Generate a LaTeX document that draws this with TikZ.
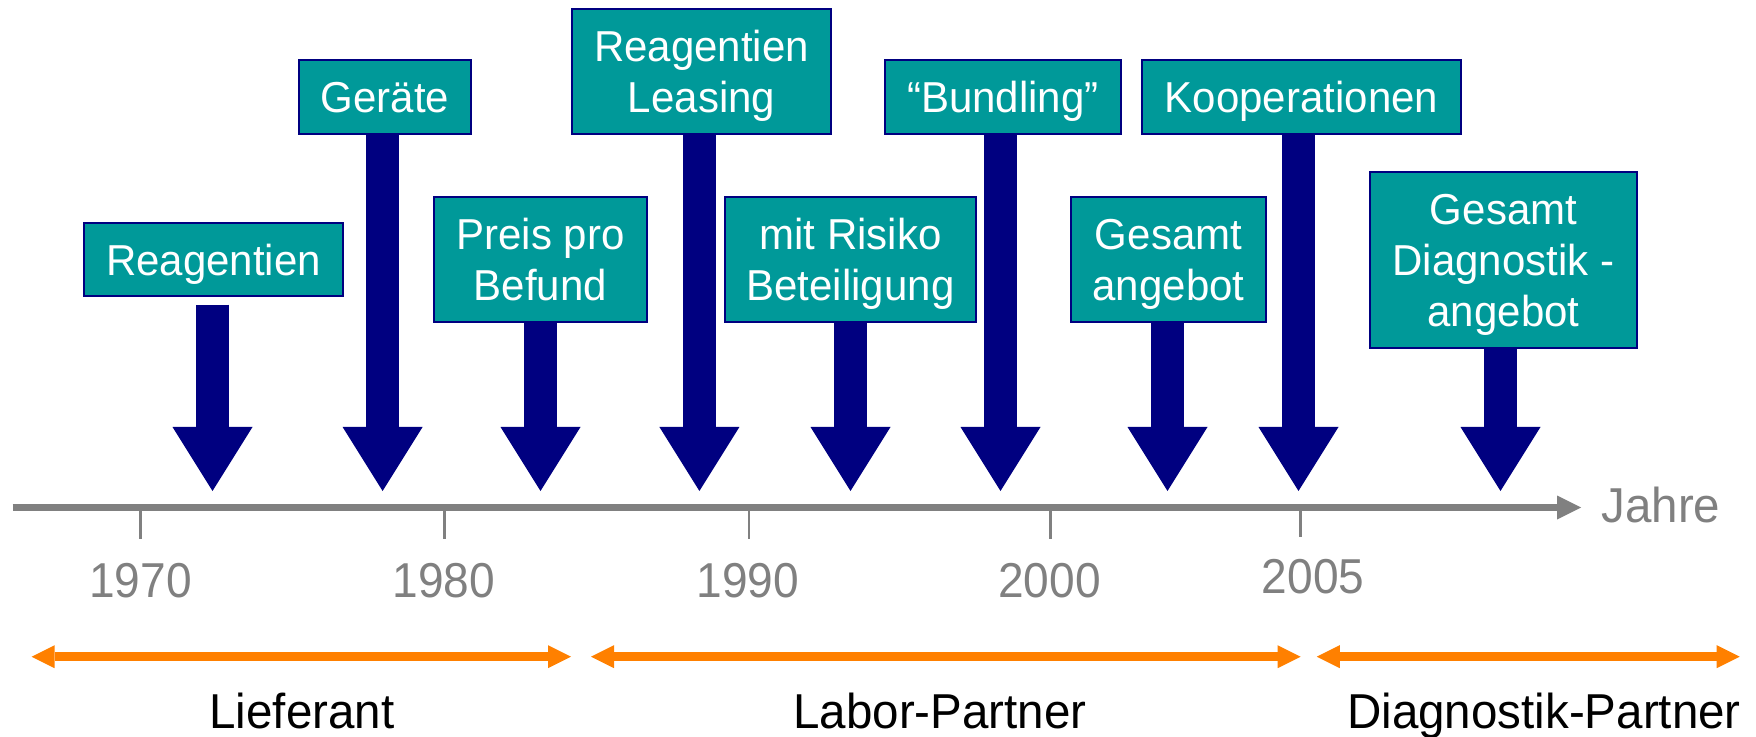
\documentclass[tikz,border=0pt]{standalone}
\usepackage{fontspec}
\setmainfont{Liberation Sans}
\newfontfamily\boxfont[FakeStretch=0.97]{Liberation Sans}
\newfontfamily\yearfont[FakeStretch=0.94]{Liberation Sans}
\newfontfamily\labelfont[FakeStretch=0.97]{Liberation Sans}
\usetikzlibrary{arrows.meta}
\definecolor{boxteal}{RGB}{0,153,153}
\definecolor{navyblue}{RGB}{0,0,128}
\definecolor{axisgray}{RGB}{128,128,128}
\definecolor{phaseorange}{RGB}{255,128,0}
\newcommand{\lnstrut}{\rule[-4.5pt]{0pt}{25pt}}
\begin{document}
\begin{tikzpicture}[x=0.5pt,y=-0.5pt,
  box/.style={draw=navyblue, fill=boxteal, line width=0.75pt, text=white, align=center,
    inner sep=0pt, font=\boxfont\fontsize{21.65}{25.5}\selectfont},
  blockarrow/.style={draw=navyblue, line width=16.5pt,
    -{Triangle[width=40pt,length=32pt,line width=0pt]}},
  axisline/.style={draw=axisgray, line width=3.75pt,
    -{Triangle[width=12pt,length=12pt,line width=0pt]}},
  tickline/.style={draw=axisgray, line width=1.25pt},
  yearlbl/.style={anchor=base, inner sep=0pt, text=axisgray, font=\yearfont\fontsize{24.5}{28}\selectfont},
  phasearrow/.style={draw=phaseorange, line width=4.5pt,
    {Triangle[width=11.5pt,length=11.5pt,line width=0pt]}-{Triangle[width=11.5pt,length=11.5pt,line width=0pt]}},
  phaselbl/.style={anchor=base, inner sep=0pt, text=black, font=\labelfont\fontsize{24.5}{28}\selectfont}]
\useasboundingbox (0,0) rectangle (1756,737);

% boxes
\node[box, minimum width=129.5pt, minimum height=36.5pt] (b1) at (213.5,259.5) {\lnstrut Reagentien};
\node[box, minimum width=86pt,    minimum height=37pt]   (b2) at (385,97) {\lnstrut Geräte};
\node[box, minimum width=106.5pt, minimum height=62.5pt] (b3) at (540.5,259.5) {\lnstrut Preis pro\\\lnstrut Befund};
\node[box, minimum width=129.5pt, minimum height=62.5pt] (b4) at (701.5,71.5) {\lnstrut Reagentien\\\lnstrut Leasing};
\node[box, minimum width=125.5pt, minimum height=62.5pt] (b5) at (850.5,259.5) {\lnstrut mit Risiko\\\lnstrut Beteiligung};
\node[box, minimum width=118pt,   minimum height=37pt]   (b6) at (1003,97) {\lnstrut “Bundling”};
\node[box, minimum width=97.5pt,  minimum height=62.5pt] (b7) at (1168.5,259.5) {\lnstrut Gesamt\\\lnstrut angebot};
\node[box, minimum width=159.5pt, minimum height=37pt]   (b8) at (1301.5,97) {\lnstrut Kooperationen};
\node[box, minimum width=133.5pt, minimum height=88pt]   (b9) at (1503.5,260) {\lnstrut Gesamt\\\lnstrut Diagnostik -\\\lnstrut angebot};

% arrow tips
\coordinate (t1) at (212.5,491);
\coordinate (t2) at (382.6,491);
\coordinate (t3) at (540.5,491);
\coordinate (t4) at (699.4,491);
\coordinate (t5) at (850.5,491);
\coordinate (t6) at (1000.5,491);
\coordinate (t7) at (1167.5,491);
\coordinate (t8) at (1298.5,491);
\coordinate (t9) at (1500.5,491);

\draw[blockarrow, shorten <=4pt] (b1.south -| t1) -- (t1);
\draw[blockarrow] (b2.south -| t2) -- (t2);
\draw[blockarrow] (b3.south -| t3) -- (t3);
\draw[blockarrow] (b4.south -| t4) -- (t4);
\draw[blockarrow] (b5.south -| t5) -- (t5);
\draw[blockarrow] (b6.south -| t6) -- (t6);
\draw[blockarrow] (b7.south -| t7) -- (t7);
\draw[blockarrow] (b8.south -| t8) -- (t8);
\draw[blockarrow] (b9.south -| t9) -- (t9);

% time axis
\coordinate (ax0) at (12.6,507.5);
\coordinate (ax1) at (1581,507.5);
\draw[axisline] (ax0) -- (ax1);
\node[anchor=base west, inner sep=0pt, text=axisgray, font=\labelfont\fontsize{24.5}{28}\selectfont] (jahre) at (1601,522) {Jahre};

% ticks
\foreach \n/\x/\e in {k1970/140.5/539, k1980/444.3/539, k1990/749/539, k2000/1050.5/539, k2005/1300.6/537} {
  \coordinate (\n a) at (\x,511);
  \coordinate (\n b) at (\x,\e);
  \draw[tickline] (\n a) -- (\n b);
}
\node[yearlbl] (y1970) at (140.5,597) {1970};
\node[yearlbl] (y1980) at (444,597) {1980};
\node[yearlbl] (y1990) at (748,597) {1990};
\node[yearlbl] (y2000) at (1049.5,597) {2000};
\node[yearlbl] (y2005) at (1313,593) {2005};

% phases
\coordinate (p1a) at (31.6,656.7);
\coordinate (p1b) at (571,656.7);
\coordinate (p2a) at (591,656.7);
\coordinate (p2b) at (1300.6,656.7);
\coordinate (p3a) at (1316.8,656.7);
\coordinate (p3b) at (1739.7,656.7);
\draw[phasearrow] (p1a) -- (p1b);
\draw[phasearrow] (p2a) -- (p2b);
\draw[phasearrow] (p3a) -- (p3b);
\node[phaselbl] (l1) at (302,728) {Lieferant};
\node[phaselbl] (l2) at (940,728) {Labor-Partner};
\node[phaselbl] (l3) at (1544,728) {Diagnostik-Partner};
\end{tikzpicture}
\end{document}
